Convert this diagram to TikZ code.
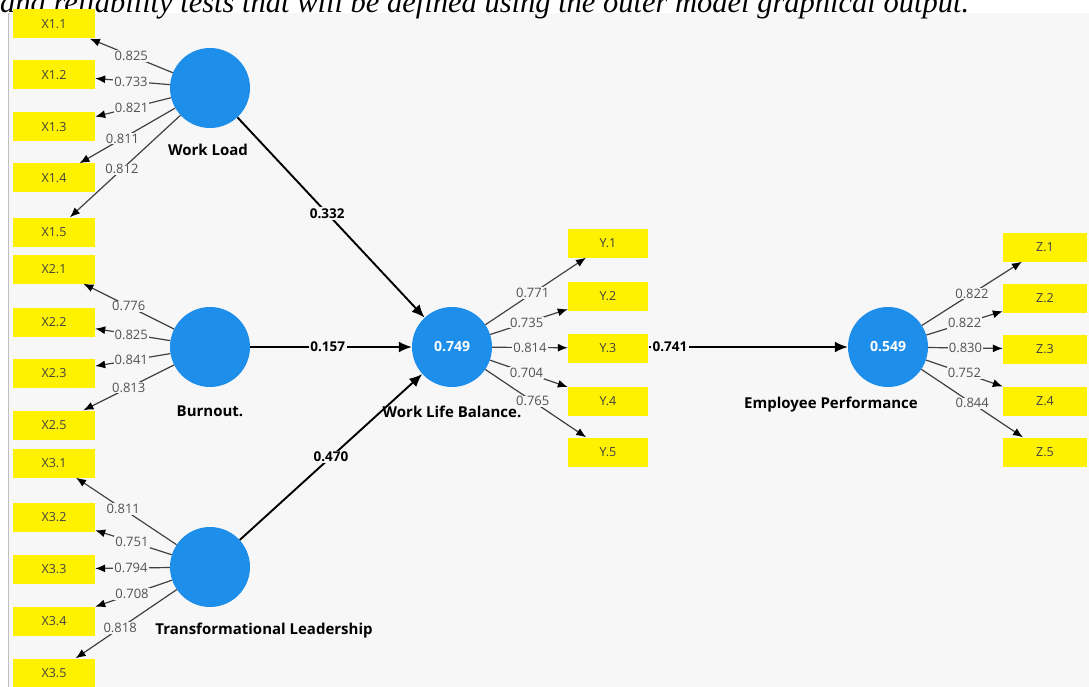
\documentclass[tikz,border=0pt]{standalone}
\usepackage{fontspec}
\setmainfont{Open Sans}
\newfontfamily\capfont{Liberation Serif}
\usetikzlibrary{arrows.meta}
\definecolor{bg}{HTML}{F7F7F7}
\definecolor{lv}{HTML}{1E8EEB}
\definecolor{indy}{HTML}{FFF200}
\definecolor{loadc}{HTML}{404040}
\begin{document}
\begin{tikzpicture}[x=1pt,y=-1pt,
 latent/.style={circle,fill=lv,minimum size=80pt,inner sep=0pt,text=white,font=\fontsize{14}{16}\selectfont\bfseries},
 indbox/.style={rectangle,fill=indy,minimum height=29pt,inner sep=0pt,font=\fontsize{12.5}{14}\selectfont,text=black!75},
 xbox/.style={indbox,minimum width=82pt},
 ybox/.style={indbox,minimum width=80pt},
 zbox/.style={indbox,minimum width=84pt},
 loadarr/.style={draw=loadc,line width=1.2pt,-{Latex[length=10pt,width=8pt,color=black]}},
 patharr/.style={draw=black,line width=1.9pt,-{Latex[length=13pt,width=11pt]}},
 lval/.style={fill=bg,inner sep=1pt,text=black!68,font=\fontsize{13}{15}\selectfont},
 pval/.style={fill=bg,inner sep=1.5pt,font=\fontsize{13.5}{15}\selectfont\bfseries},
 lvname/.style={font=\fontsize{15}{18}\selectfont\bfseries}]
\useasboundingbox (0,0) rectangle (1089,687);
\clip (0,0) rectangle (1089,687);
\fill[white] (0,0) rectangle (1089,687);
\fill[bg] (8,13) rectangle (1089,687);
\draw[black!25,line width=0.6pt] (8,13) -- (8,687);
\node[anchor=base west,inner sep=0pt,font=\capfont\itshape\fontsize{30.5}{32}\selectfont] (cap) at (0,13) {and reliability tests that will be defined using the outer model graphical output.};

% latent variables
\node[latent] (WL) at (210,88) {};
\node[latent] (BO) at (210,347) {};
\node[latent] (TL) at (210,567) {};
\node[latent] (WLB) at (452,347) {0.749};
\node[latent] (EP) at (888,347) {0.549};
\node[lvname] (nWL) at (208,150) {Work Load};
\node[lvname] (nBO) at (210,411) {Burnout.};
\node[lvname] (nTL) at (264,631) {Transformational Leadership};
\node[lvname] (nWLB) at (452,412) {Work Life Balance.};
\node[lvname] (nEP) at (831,405) {Employee Performance};

% indicators
\node[xbox] (X11) at (54,24) {X1.1};
\node[xbox] (X12) at (54,75) {X1.2};
\node[xbox] (X13) at (54,127) {X1.3};
\node[xbox] (X14) at (54,178) {X1.4};
\node[xbox] (X15) at (54,232) {X1.5};
\node[xbox] (X21) at (54,269) {X2.1};
\node[xbox] (X22) at (54,322) {X2.2};
\node[xbox] (X23) at (54,373) {X2.3};
\node[xbox] (X25) at (54,425) {X2.5};
\node[xbox] (X31) at (54,463) {X3.1};
\node[xbox] (X32) at (54,517) {X3.2};
\node[xbox] (X33) at (54,569) {X3.3};
\node[xbox] (X34) at (54,621) {X3.4};
\node[xbox] (X35) at (54,673) {X3.5};
\node[ybox] (Y1) at (608,243) {Y.1};
\node[ybox] (Y2) at (608,296) {Y.2};
\node[ybox] (Y3) at (608,348) {Y.3};
\node[ybox] (Y4) at (608,401) {Y.4};
\node[ybox] (Y5) at (608,452) {Y.5};
\node[zbox] (Z1) at (1045,247) {Z.1};
\node[zbox] (Z2) at (1045,298) {Z.2};
\node[zbox] (Z3) at (1045,349) {Z.3};
\node[zbox] (Z4) at (1045,401) {Z.4};
\node[zbox] (Z5) at (1045,452) {Z.5};

% outer loadings
\draw[loadarr] (WL) -- node[lval,pos=0.5] {0.825} (X11);
\draw[loadarr] (WL) -- node[lval,pos=0.52] {0.733} (X12);
\draw[loadarr] (WL) -- node[lval,pos=0.52] {0.821} (X13);
\draw[loadarr] (WL) -- node[lval,pos=0.55] {0.811} (X14);
\draw[loadarr] (WL) -- node[lval,pos=0.53] {0.812} (X15);
\draw[loadarr] (BO) -- node[lval,pos=0.5] {0.776} (X21);
\draw[loadarr] (BO) -- node[lval,pos=0.52] {0.825} (X22);
\draw[loadarr] (BO) -- node[lval,pos=0.52] {0.841} (X23);
\draw[loadarr] (BO) -- node[lval,pos=0.5] {0.813} (X25);
\draw[loadarr] (TL) -- node[lval,pos=0.53] {0.811} (X31);
\draw[loadarr] (TL) -- node[lval,pos=0.52] {0.751} (X32);
\draw[loadarr] (TL) -- node[lval,pos=0.52] {0.794} (X33);
\draw[loadarr] (TL) -- node[lval,pos=0.52] {0.708} (X34);
\draw[loadarr] (TL) -- node[lval,pos=0.56] {0.818} (X35);
\draw[loadarr] (WLB) -- node[lval,pos=0.47] {0.771} (Y1);
\draw[loadarr] (WLB) -- node[lval,pos=0.47] {0.735} (Y2);
\draw[loadarr] (WLB) -- node[lval,pos=0.5] {0.814} (Y3);
\draw[loadarr] (WLB) -- node[lval,pos=0.47] {0.704} (Y4);
\draw[loadarr] (WLB) -- node[lval,pos=0.47] {0.765} (Y5);
\draw[loadarr] (EP) -- node[lval,pos=0.5] {0.822} (Z1);
\draw[loadarr] (EP) -- node[lval,pos=0.5] {0.822} (Z2);
\draw[loadarr] (EP) -- node[lval,pos=0.5] {0.830} (Z3);
\draw[loadarr] (EP) -- node[lval,pos=0.5] {0.752} (Z4);
\draw[loadarr] (EP) -- node[lval,pos=0.5] {0.844} (Z5);

% structural paths
\draw[patharr] (WL) -- node[pval,pos=0.48] {0.332} (WLB);
\draw[patharr] (BO) -- node[pval,pos=0.48] {0.157} (WLB);
\draw[patharr] (TL) -- node[pval,pos=0.5] {0.470} (WLB);
\draw[patharr,shorten <=157pt] (WLB) -- node[pval,pos=0.5] {0.741} (EP);
\end{tikzpicture}
\end{document}
